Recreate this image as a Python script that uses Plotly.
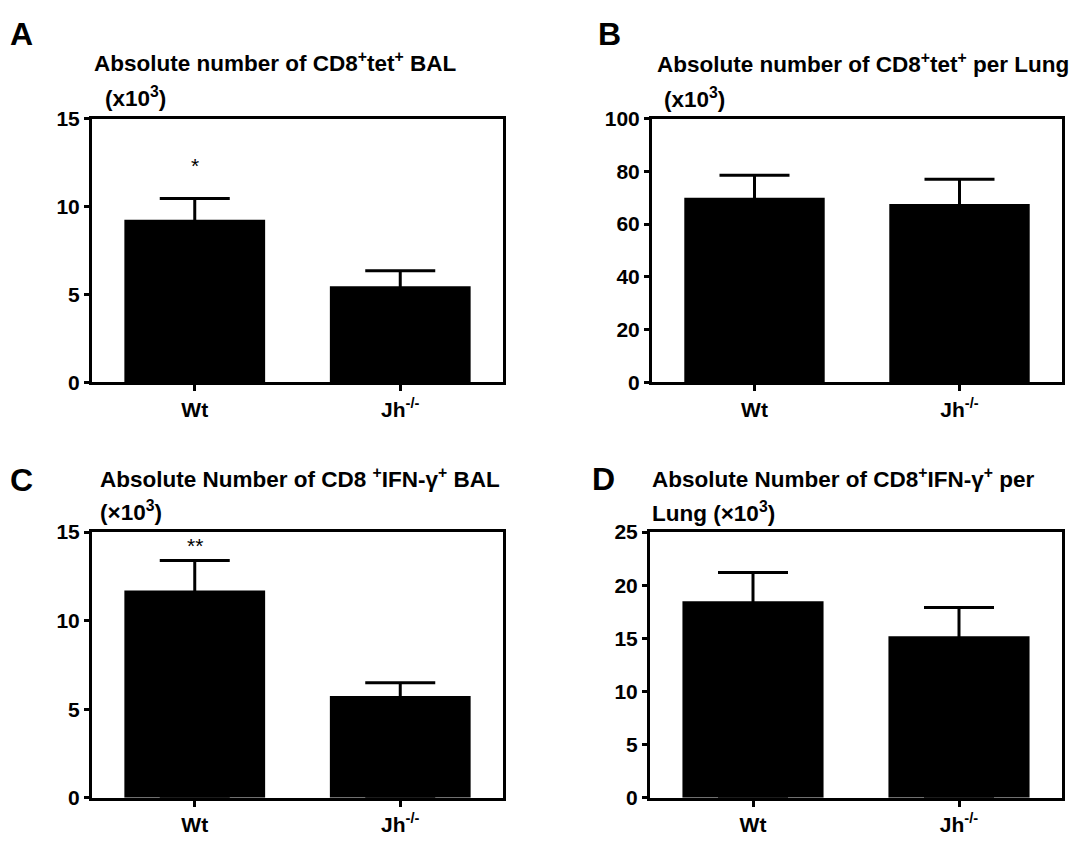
import plotly.graph_objects as go

# ---- data ----
categories = ["Wt", "Jh<sup>-/-</sup>"]

a_mean = [9.25, 5.47]
a_sem = [1.2, 0.88]
b_mean = [70.0, 67.6]
b_sem = [8.5, 9.4]
c_mean = [11.7, 5.75]
c_sem = [1.7, 0.75]
d_mean = [18.5, 15.2]
d_sem = [2.7, 2.7]

a_ticks = [0, 5, 10, 15]
b_ticks = [0, 20, 40, 60, 80, 100]
c_ticks = [0, 5, 10, 15]
d_ticks = [0, 5, 10, 15, 20, 25]

# page body has an 8px margin; figure sized so that the page fits 1080x844
OFF = 8
W, H = 1080 - 2 * OFF, 844 - 2 * OFF
FONT = "Liberation Sans, Arial, sans-serif"

def px(x):
    return (x - OFF) / W

def py(y):
    return 1 - (y - OFF) / H

fig = go.Figure()

panels = [
    (a_mean, a_sem, a_ticks, 15, "", (92, 503, 110, 383)),
    (b_mean, b_sem, b_ticks, 100, "2", (652, 1062, 110, 383)),
    (c_mean, c_sem, c_ticks, 15, "3", (92, 503, 538, 813)),
    (d_mean, d_sem, d_ticks, 25, "4", (650, 1062, 538, 813)),
]

for mean, sem, ticks, ymax, ax, (x0, x1, yt, yb) in panels:
    fig.add_trace(go.Bar(
        x=categories, y=mean,
        xaxis="x" + ax, yaxis="y" + ax,
        width=0.685,
        marker=dict(color="black", line=dict(width=0)),
        # lower whisker runs down inside the black bar, so only the upper one shows
        error_y=dict(type="data", array=sem, arrayminus=mean,
                     symmetric=False, color="black", thickness=3, width=35),
        showlegend=False, hoverinfo="skip",
    ))
    axis_common = dict(showline=True, linecolor="black", linewidth=3, mirror=True,
                       ticks="outside", tickcolor="black", tickwidth=3,
                       showgrid=False, zeroline=False,
                       tickfont=dict(family=FONT, size=21, color="black", weight="bold"))
    fig.update_layout(**{
        "xaxis" + ax: dict(domain=[px(x0), px(x1)], anchor="y" + ax,
                           range=[-0.5, 1.5], ticklen=6, **axis_common),
        "yaxis" + ax: dict(domain=[py(yb), py(yt)], anchor="x" + ax,
                           range=[0, ymax], tickvals=ticks, ticklen=5, **axis_common),
    })

def ann(text, x, y, size):
    fig.add_annotation(text="<b>%s</b>" % text,
                       x=px(x), y=py(y), xref="paper", yref="paper",
                       xanchor="left", yanchor="middle", showarrow=False,
                       font=dict(family=FONT, size=size, color="black"))

# panel letters
ann("A", 8, 22, 32)
ann("B", 596, 22, 32)
ann("C", 8, 484, 32)
ann("D", 590, 483, 32)

# titles
TS = 22.5
ann("Absolute number of CD8<sup>+</sup>tet<sup>+</sup> BAL", 92, 51, TS)
ann("(x10<sup>3</sup>)", 103, 88, TS)
ann("Absolute number of CD8<sup>+</sup>tet<sup>+</sup> per Lung", 655, 53, TS)
ann("(x10<sup>3</sup>)", 662, 89, TS)
ann("Absolute Number of CD8 <sup>+</sup>IFN-γ<sup>+</sup> BAL", 98, 482, TS)
ann("(×10<sup>3</sup>)", 98, 516, TS)
ann("Absolute Number of CD8<sup>+</sup>IFN-γ<sup>+</sup> per", 650, 482, TS)
ann("Lung (×10<sup>3</sup>)", 650, 517, TS)

# significance marks
fig.add_annotation(text="*", x="Wt", y=12.35, xref="x", yref="y", showarrow=False,
                   font=dict(family=FONT, size=21, color="black"))
fig.add_annotation(text="**", x="Wt", y=14.25, xref="x3", yref="y3", showarrow=False,
                   font=dict(family=FONT, size=21, color="black"))

fig.update_layout(width=W, height=H, margin=dict(l=0, r=0, t=0, b=0),
                  paper_bgcolor="white", plot_bgcolor="white")

fig.write_html("out.html")
